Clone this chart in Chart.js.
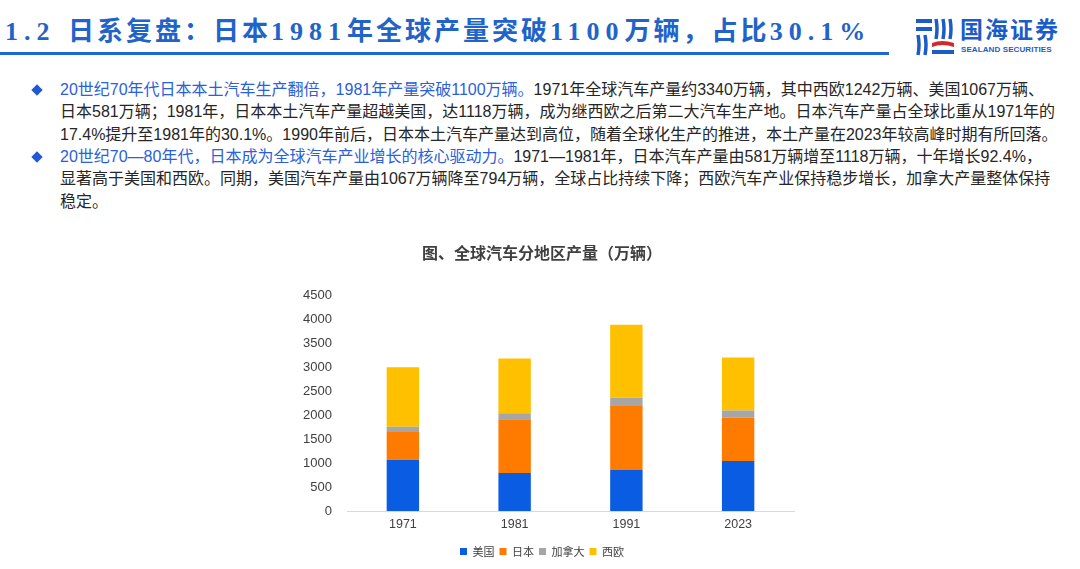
<!DOCTYPE html>
<html>
<head>
<meta charset="utf-8">
<script src="https://cdn.jsdelivr.net/npm/chart.js@4/dist/chart.umd.min.js"></script>
<style>
  html,body{margin:0;padding:0;background:#fff;}
  body{width:1080px;height:569px;position:relative;overflow:hidden;font-family:"Liberation Sans","Noto Sans CJK SC",sans-serif;}
  #hdr{position:absolute;left:5px;top:11px;font-size:26px;line-height:36px;font-weight:bold;color:#2163c9;letter-spacing:3px;white-space:nowrap;font-family:"Noto Sans CJK SC",sans-serif;}
  #hdr .d{font-family:"Liberation Serif",serif;font-size:26px;letter-spacing:6px;}
  #rule{position:absolute;left:0;top:52px;width:889px;height:3px;background:#1f66d6;}
  #logo{position:absolute;left:914px;top:14px;width:160px;height:46px;}
  #logo .cn{position:absolute;left:46px;top:1px;font-family:"Noto Sans CJK SC",sans-serif;font-weight:bold;font-size:23px;color:#1a5cc8;letter-spacing:2px;white-space:nowrap;line-height:26px;}
  #logo .en{position:absolute;left:47px;top:31px;font-family:"Liberation Sans",sans-serif;font-weight:bold;font-size:8px;color:#1a5cc8;white-space:nowrap;letter-spacing:0.1px;}
  .txt{position:absolute;left:60px;font-size:16px;line-height:22.4px;color:#262626;white-space:nowrap;}
  .hl{color:#2a60da;}
  .dia{position:absolute;left:33px;width:8px;height:8px;background:#2258d6;transform:rotate(45deg);}
  #wrap{position:absolute;left:290px;top:236px;width:520px;height:333px;}
</style>
</head>
<body>
<div id="hdr"><span class="d">1.2 </span>日系复盘：日本<span class="d">1981</span>年全球产量突破<span class="d">1100</span>万辆，占比<span class="d">30.1%</span></div>
<div id="rule"></div>
<div id="logo">
  <svg width="44" height="40" viewBox="0 0 44 40" style="position:absolute;left:0;top:3px">
    <rect x="2" y="2" width="16" height="4" fill="#1a5cc8"/>
    <rect x="2" y="10" width="16" height="4" fill="#1a5cc8"/>
    <path d="M4 18 Q6 28 4 38" stroke="#1a5cc8" stroke-width="3.5" fill="none"/>
    <path d="M11 18 Q13 28 11 38" stroke="#1a5cc8" stroke-width="3.5" fill="none"/>
    <path d="M22 2 Q24 12 22 22" stroke="#1a5cc8" stroke-width="3.5" fill="none"/>
    <path d="M29 2 Q31 12 29 22" stroke="#1a5cc8" stroke-width="3.5" fill="none"/>
    <path d="M36 2 Q38 12 36 22" stroke="#1a5cc8" stroke-width="3.5" fill="none"/>
    <path d="M18 26 Q28 22 40 26 L40 30 Q28 26 18 30 Z" fill="#d9262c"/>
    <rect x="18" y="33" width="22" height="4" fill="#1a5cc8"/>
  </svg>
  <div class="cn">国海证券</div>
  <div class="en">SEALAND SECURITIES</div>
</div>

<div class="dia" style="top:86px"></div>
<div class="txt" style="top:79px"><span class="hl">20世纪70年代日本本土汽车生产翻倍，1981年产量突破1100万辆。</span>1971年全球汽车产量约3340万辆，其中西欧1242万辆、美国1067万辆、<br>日本581万辆；1981年，日本本土汽车产量超越美国，达1118万辆，成为继西欧之后第二大汽车生产地。日本汽车产量占全球比重从1971年的<br>17.4%提升至1981年的30.1%。1990年前后，日本本土汽车产量达到高位，随着全球化生产的推进，本土产量在2023年较高峰时期有所回落。</div>
<div class="dia" style="top:153px"></div>
<div class="txt" style="top:146px"><span class="hl">20世纪70—80年代，日本成为全球汽车产业增长的核心驱动力。</span>1971—1981年，日本汽车产量由581万辆增至1118万辆，十年增长92.4%，<br>显著高于美国和西欧。同期，美国汽车产量由1067万辆降至794万辆，全球占比持续下降；西欧汽车产业保持稳步增长，加拿大产量整体保持<br>稳定。</div>

<div id="wrap"><canvas id="c"></canvas></div>

<script>
const years = ['1971', '1981', '1991', '2023'];
const usa = [1067, 794, 854, 1042];
const japan = [581, 1118, 1334, 909];
const canada = [110, 128, 173, 146];
const westEurope = [1242, 1140, 1521, 1104];
const seriesNames = ['美国', '日本', '加拿大', '西欧'];
const yTicks = [0, 500, 1000, 1500, 2000, 2500, 3000, 3500, 4000, 4500];

const colors = ['#0a5ce3', '#ff7b00', '#a6a6a6', '#ffc000'];
const seriesData = [usa, japan, canada, westEurope];

Chart.defaults.font.family = '"Liberation Sans","Noto Sans CJK SC",sans-serif';
Chart.defaults.color = '#404040';

new Chart(document.getElementById('c'), {
  type: 'bar',
  data: {
    labels: years,
    datasets: seriesNames.map((n, i) => ({
      label: n,
      data: seriesData[i],
      backgroundColor: colors[i],
      borderWidth: 0,
      categoryPercentage: 1,
      barPercentage: 0.29
    }))
  },
  options: {
    responsive: true,
    maintainAspectRatio: false,
    animation: false,
    layout: { padding: { left: 0, right: 16, top: 0, bottom: 2 } },
    plugins: {
      title: {
        display: true,
        text: '图、全球汽车分地区产量（万辆）',
        color: '#404040',
        font: { size: 16, weight: 'bold', family: '"Noto Sans CJK SC",sans-serif' },
        padding: { top: 7, bottom: 33 }
      },
      legend: {
        position: 'bottom',
        labels: {
          boxWidth: 7, boxHeight: 7, padding: 5,
          color: '#404040',
          font: { size: 11, family: '"Noto Sans CJK SC",sans-serif' }
        }
      },
      tooltip: { enabled: false }
    },
    scales: {
      x: {
        stacked: true,
        grid: { display: false, drawTicks: false, tickLength: 0 },
        border: { display: true, color: '#d9d9d9', width: 1 },
        ticks: { color: '#404040', font: { size: 12.5 }, padding: 6 },
        afterFit: (ax) => { ax.height = 30; }
      },
      y: {
        stacked: true,
        min: 0, max: 4500,
        afterBuildTicks: (ax) => { ax.ticks = yTicks.map(v => ({ value: v })); },
        afterFit: (ax) => { ax.width = 57; },
        grid: { display: false },
        border: { display: false },
        ticks: { color: '#404040', font: { size: 13 }, padding: 7, callback: (v) => String(v) }
      }
    }
  }
});
</script>
</body>
</html>
